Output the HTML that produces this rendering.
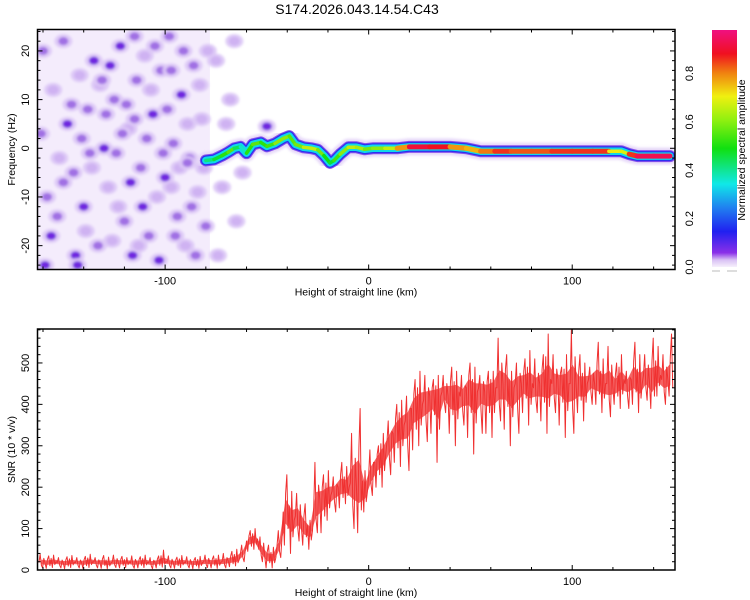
<!DOCTYPE html>
<html><head><meta charset="utf-8"><style>
html,body{margin:0;padding:0;background:#fff;width:750px;height:600px;overflow:hidden}
svg text{font-family:"Liberation Sans",sans-serif;fill:#000}
</style></head><body>
<svg id="chart" width="750" height="600" xmlns="http://www.w3.org/2000/svg">
<defs>
<linearGradient id="cbar" x1="0" y1="1" x2="0" y2="0">
<stop offset="0" stop-color="#f6f0fc"/><stop offset="0.03" stop-color="#d8c0f4"/><stop offset="0.06" stop-color="#8a30e8"/>
<stop offset="0.15" stop-color="#2020f0"/><stop offset="0.25" stop-color="#2080f0"/><stop offset="0.35" stop-color="#10e8e8"/>
<stop offset="0.5" stop-color="#10e010"/><stop offset="0.62" stop-color="#90f010"/><stop offset="0.72" stop-color="#f0f010"/>
<stop offset="0.82" stop-color="#f08010"/><stop offset="0.9" stop-color="#f01020"/><stop offset="1" stop-color="#f01080"/>
</linearGradient>
<clipPath id="clipTop"><rect x="37.5" y="29.5" width="637.5" height="240"/></clipPath>
<clipPath id="clipBot"><rect x="37.5" y="329" width="637.5" height="241"/></clipPath>
<filter id="blur1"><feGaussianBlur stdDeviation="1.2"/></filter>
</defs>
<text x="357" y="14" font-size="14" text-anchor="middle">S174.2026.043.14.54.C43</text>
<g id="topPanel"></g>
<g id="cb"></g>
<g id="botPanel"></g>
</svg>
<script>
// ---- data ----
const xDomain=[-162.7,150.5];
const freqDomain=[-24.9,24.4];
const snrDomain=[0,582];
const xTicks=[-100,0,100];
const freqTicks=[-20,-10,0,10,20];
const snrTicks=[0,100,200,300,400,500];
const cbTicks=[0.0,0.2,0.4,0.6,0.8];
// spectral ridge: height (km), frequency (Hz), normalized amplitude
const ridgeH=[-80,-76,-72,-69,-66,-63,-60,-57,-53,-50,-46,-42,-39,-36,-32,-28,-25,-22,-19,-17,-14,-10,-6,-2,2,8,14,20,30,40,48,55,62,70,80,90,100,110,118,124,128,132,140,148];
const ridgeF=[-2.5,-2.3,-1.5,-0.8,0,0.3,-1,0.8,1.2,0.4,1,2,2.5,0.8,0.2,0,-0.3,-1.5,-3,-2.5,-1.2,0.2,0.2,-0.2,0,0,0,0.3,0.3,0.3,0,-0.6,-0.6,-0.6,-0.6,-0.6,-0.6,-0.6,-0.6,-0.6,-1.2,-1.6,-1.6,-1.6];
const ridgeA=[0.4,0.45,0.5,0.55,0.6,0.3,0.45,0.6,0.55,0.5,0.6,0.65,0.6,0.55,0.65,0.7,0.65,0.55,0.45,0.5,0.6,0.65,0.7,0.6,0.6,0.65,0.7,0.9,0.95,0.85,0.75,0.8,0.85,0.9,0.8,0.9,0.85,0.9,0.85,0.6,0.8,0.95,0.95,0.95];
// noise blobs: height, freq, level
const blobH=[-160,-155,-150,-148,-145,-142,-140,-138,-135,-133,-130,-128,-125,-122,-120,-118,-116,-114,-112,-110,-108,-106,-104,-102,-100,-98,-96,-94,-92,-90,-88,-86,-84,-82,-80,-79,-158,-156,-152,-146,-144,-136,-132,-126,-124,-119,-115,-111,-107,-103,-99,-95,-91,-87,-83,-161,-153,-141,-127,-117,-109,-97,-89,-85,-139,-123,-113,-105,-93,-81,-75,-72,-68,-65,-66,-74,-62,-70,-50,-150,-137,-121,-101,-89,-143,-131,-115,-97,-159,-129];
const blobF=[20,12,22,5,-5,15,-12,8,18,-20,0,-8,10,21,-15,4,-22,14,-4,19,-18,7,-10,16,-6,23,1,-14,11,-20,-2,17,-9,6,-16,20,-10,-18,-2,9,-22,-4,13,-19,-1,9,23,-12,12,-23,8,-18,20,-12,13,3,-14,2,17,-7,2,-8,5,-22,-17,-12,-20,21,-4,-4,18,-8,10,-15,22,-22,-5,5,4.5,-7,-1,3,-1,-3,-24,14,6,16,-24,7];
const blobL=[2,1,2,3,2,1,3,2,3,2,3,1,2,3,2,1,3,2,2,1,2,3,1,2,3,2,2,2,3,1,2,2,1,1,2,1,2,3,1,2,3,1,1,1,2,2,2,3,1,3,2,2,2,2,1,2,2,2,3,3,2,1,1,2,1,1,1,2,1,1,1,1,1,1,1,1,1,1,3,2,2,2,2,2,3,2,2,2,3,2];
// SNR (3 km bins starting at -162): mean, high, low
const snrMean=[18,17,20,18,16,19,18,17,20,19,18,17,19,18,20,17,18,19,17,18,21,18,17,19,18,17,18,20,18,19,20,22,25,40,70,75,50,30,30,60,140,120,130,100,95,150,170,180,190,200,200,210,200,190,230,260,280,310,330,350,360,390,400,410,420,420,430,420,430,420,440,430,440,430,440,440,450,440,450,450,450,440,450,460,450,460,450,450,440,450,460,450,450,450,440,460,450,460,450,470,450,470,460,460];
const snrHigh=[38,34,36,30,32,35,30,33,38,30,35,31,36,33,30,34,32,36,30,34,48,34,31,35,32,30,33,36,34,36,40,45,50,60,95,100,80,60,55,95,230,190,185,160,120,260,230,240,225,260,250,330,390,240,290,300,330,360,400,410,420,460,480,470,460,470,470,490,480,470,500,490,470,480,480,560,520,480,500,510,530,510,520,570,520,490,520,580,520,500,490,550,510,540,500,520,480,550,520,520,560,540,520,570];
const snrLow=[5,4,6,5,3,6,5,4,6,5,4,3,6,5,6,4,5,6,3,5,7,5,4,6,5,3,4,6,5,4,5,8,10,20,45,50,20,5,5,30,60,40,70,60,50,90,90,120,140,150,160,100,90,140,180,200,200,230,260,250,240,290,300,310,330,260,380,330,300,350,320,280,330,330,320,360,340,300,330,380,350,380,360,330,380,350,320,330,380,360,400,400,380,370,400,390,390,400,380,410,390,420,400,420];
const snrStep=3, snrStart=-162;

// ---- helpers ----
const NS="http://www.w3.org/2000/svg";
function mk(parent,tag,attrs){const e=document.createElementNS(NS,tag);for(const k in attrs)e.setAttribute(k,attrs[k]);parent.appendChild(e);return e;}
const PL=37.5,PR=675;
function sx(v){return PL+(v-xDomain[0])/(xDomain[1]-xDomain[0])*(PR-PL);}
const TT=29.5,TB=269.5;
function sf(v){return TB-(v-freqDomain[0])/(freqDomain[1]-freqDomain[0])*(TB-TT);}
const BT=329,BB=570;
function ss(v){return BB-(v-snrDomain[0])/(snrDomain[1]-snrDomain[0])*(BB-BT);}
function ampColor(a){
 const st=[[0,[246,240,252]],[0.06,[138,48,232]],[0.15,[32,32,240]],[0.35,[16,232,232]],[0.5,[16,224,16]],[0.72,[240,240,16]],[0.82,[240,128,16]],[0.9,[240,16,32]],[1,[240,16,128]]];
 for(let i=1;i<st.length;i++){if(a<=st[i][0]){const t=(a-st[i-1][0])/(st[i][0]-st[i-1][0]);const c=st[i-1][1].map((v,j)=>Math.round(v+(st[i][1][j]-v)*t));return `rgb(${c})`;}}
 return 'rgb(240,16,128)';
}
function frameAxes(g,ptop,pbot,xt,yt,yScale,yMinorStep,yRange,xl){
 const fr=mk(g,'rect',{x:PL,y:ptop,width:PR-PL,height:pbot-ptop,fill:'none',stroke:'#000','stroke-width':1.5});
 
 
 for(let v=-160;v<=xDomain[1];v+=20){const x=sx(v);const maj=(v%100===0);const L=maj?5:3;
  mk(g,'line',{x1:x,y1:pbot,x2:x,y2:pbot-L,stroke:'#000'});mk(g,'line',{x1:x,y1:ptop,x2:x,y2:ptop+L,stroke:'#000'});}
 xt.forEach(v=>{const t=mk(g,'text',{x:sx(v),y:pbot+15,'font-size':11,'text-anchor':'middle'});t.textContent=v;
  
  });
 for(let v=Math.ceil(yRange[0]/yMinorStep)*yMinorStep;v<=yRange[1];v+=yMinorStep){const y=yScale(v);const maj=yt.includes(v);const L=maj?5:3;
  mk(g,'line',{x1:PL,y1:y,x2:PL+L,y2:y,stroke:'#000'});mk(g,'line',{x1:PR,y1:y,x2:PR-L,y2:y,stroke:'#000'});}
 yt.forEach(v=>{const y=yScale(v);const t=mk(g,'text',{x:29,y:y,'font-size':11,'text-anchor':'middle',transform:`rotate(-90 29 ${y})`});t.textContent=v;
  
  });
 const xt2=mk(g,'text',{x:356,y:pbot+26,'font-size':10.5,'text-anchor':'middle'});xt2.textContent='Height of straight line (km)';
 
 
 const yc=(ptop+pbot)/2;const ytl=mk(g,'text',{x:15,y:yc,'font-size':10.5,'text-anchor':'middle',transform:`rotate(-90 15 ${yc})`});ytl.textContent=xl;
 
 
}

// ---- top spectrogram ----
const topG=document.getElementById('topPanel');
const tc=mk(topG,'g',{'clip-path':'url(#clipTop)'});
mk(tc,'rect',{x:sx(-163),y:TT,width:sx(-78)-sx(-163),height:TB-TT,fill:'#ece0fa',opacity:0.6});
const blobCols=['', '#cfb2f2','#a070e4','#7028e0'];
const bl=mk(tc,'g',{filter:'url(#blur1)'});
blobH.forEach((h,i)=>{const lv=blobL[i];
 mk(bl,'ellipse',{cx:sx(h),cy:sf(blobF[i]),rx:9,ry:7,fill:'#dcc6f6',opacity:0.9});
 const b=mk(bl,'ellipse',{cx:sx(h),cy:sf(blobF[i]),rx:lv===1?5.5:5,ry:lv===1?4.5:4,fill:blobCols[lv]});
 
 });
const rp=ridgeH.map((h,i)=>`${sx(h)},${sf(ridgeF[i])}`).join(' ');
[[17,'#e4d4f8',0.9],[12,'#8a50ea',1],[10,'#2a30f0',1],[7.5,'#10d8e8',1]].forEach(([w,c,o])=>{
 const at={points:rp,fill:'none',stroke:c,'stroke-width':w,'stroke-linejoin':'round','stroke-linecap':'round',opacity:o};
 if(w>15)at.filter='url(#blur1)';
 const p=mk(tc,'polyline',at);
 
 });
for(let i=0;i<ridgeH.length-1;i++){
 const a=(ridgeA[i]+ridgeA[i+1])/2;
 const s=mk(tc,'line',{x1:sx(ridgeH[i]),y1:sf(ridgeF[i]),x2:sx(ridgeH[i+1]),y2:sf(ridgeF[i+1]),stroke:ampColor(a),'stroke-width':a>0.75?5:3.5,'stroke-linecap':'round'});
 
 }
frameAxes(topG,TT,TB,xTicks,freqTicks,sf,2,freqDomain,'Frequency (Hz)');

// ---- colorbar ----
const cb=document.getElementById('cb');
const CBT=30,CBB=267,CBX=712,CBW=25;
const cbr=mk(cb,'rect',{x:CBX,y:CBT,width:CBW,height:CBB-CBT,fill:'url(#cbar)'});


function sc(v){return CBB-v/0.98*(CBB-CBT);}
cbTicks.forEach(v=>{const y=sc(v);const t=mk(cb,'text',{x:693,y:y,'font-size':11,'text-anchor':'middle',transform:`rotate(-90 693 ${y})`});t.textContent=v.toFixed(1);
 
 });
mk(cb,'line',{x1:CBX,y1:CBB+4,x2:CBX+8,y2:CBB+4,stroke:'#bbb'});mk(cb,'line',{x1:CBX+15,y1:CBB+4,x2:CBX+CBW,y2:CBB+4,stroke:'#bbb'});
const cbt=mk(cb,'text',{x:745,y:150,'font-size':10.5,'text-anchor':'middle',transform:'rotate(-90 745 150)'});cbt.textContent='Normalized spectral amplitude';



// ---- bottom SNR ----
const botG=document.getElementById('botPanel');
const bc=mk(botG,'g',{'clip-path':'url(#clipBot)'});
// inner dense band
const up=[],dn=[];
snrMean.forEach((m,i)=>{const x=sx(snrStart+i*snrStep+1.2);
 up.push(`${x},${ss(m+(snrHigh[i]-m)*0.35)}`);dn.unshift(`${x},${ss(m-(m-snrLow[i])*0.35)}`);});
const band=mk(bc,'polygon',{points:up.concat(dn).join(' '),fill:'#f03030',opacity:0.75});


const pts=[];
snrMean.forEach((m,i)=>{const h=snrStart+i*snrStep;const hi=snrHigh[i],lo=snrLow[i];
 const seq=(i%3===0)?[m,hi,(m+lo)/2,lo,(m+hi)/2]:(i%3===1)?[m,lo,(m+hi)/2,hi,(m+lo)/2]:[(m+hi)/2,lo,hi,(m+lo)/2,m];
 seq.forEach((v,k)=>pts.push(`${sx(h+k*0.6)},${ss(v)}`));});
const ln=mk(bc,'polyline',{points:pts.join(' '),fill:'none',stroke:'#f03030','stroke-width':1,'stroke-linejoin':'round'});


frameAxes(botG,BT,BB,xTicks,snrTicks,ss,20,snrDomain,'SNR (10 * v/v)');
</script>
</body></html>
